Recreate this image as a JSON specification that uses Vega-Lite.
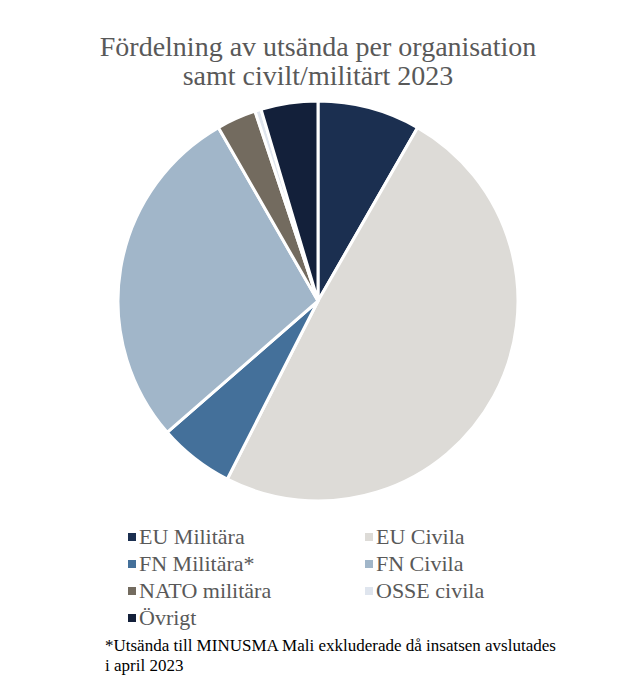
{
  "$schema": "https://vega.github.io/schema/vega-lite/v6.json",
  "autosize": {"type": "none"},
  "width": 636,
  "height": 410,
  "padding": {"left": 0, "right": 0, "top": 96, "bottom": 187},
  "background": "white",
  "title": {
    "text": ["Fördelning av utsända per organisation", "samt civilt/militärt 2023"],
    "font": "Liberation Serif, Times New Roman, serif",
    "fontSize": 28,
    "fontWeight": "normal",
    "color": "#595959",
    "lineHeight": 29,
    "anchor": "middle",
    "offset": 4
  },
  "data": {
    "values": [
      {"kategori": "EU Militära", "andel": 8.3, "ordning": 1},
      {"kategori": "EU Civila", "andel": 49.2, "ordning": 2},
      {"kategori": "FN Militära*", "andel": 6.1, "ordning": 3},
      {"kategori": "FN Civila", "andel": 28.1, "ordning": 4},
      {"kategori": "NATO militära", "andel": 3.2, "ordning": 5},
      {"kategori": "OSSE civila", "andel": 0.5, "ordning": 6},
      {"kategori": "Övrigt", "andel": 4.6, "ordning": 7}
    ]
  },
  "mark": {"type": "arc", "outerRadius": 200, "stroke": "white", "strokeWidth": 3},
  "encoding": {
    "theta": {"field": "andel", "type": "quantitative", "stack": true},
    "order": {"field": "ordning", "type": "quantitative"},
    "color": {
      "field": "kategori",
      "type": "nominal",
      "scale": {
        "domain": ["EU Militära", "EU Civila", "FN Militära*", "FN Civila", "NATO militära", "OSSE civila", "Övrigt"],
        "range": ["#1b2f50", "#dddbd7", "#44709a", "#a1b6c9", "#736b5f", "#dfe5ee", "#13203a"]
      },
      "legend": {
        "orient": "none",
        "legendX": 105,
        "legendY": 430,
        "columns": 2,
        "direction": "horizontal",
        "symbolType": "square",
        "symbolSize": 64,
        "symbolStrokeWidth": 0,
        "symbolOffset": 16,
        "labelFont": "Liberation Serif, Times New Roman, serif",
        "labelFontSize": 22,
        "labelColor": "#595959",
        "labelOffset": -4,
        "labelLimit": 300,
        "rowPadding": 5,
        "columnPadding": 70,
        "title": ["*Utsända till MINUSMA Mali exkluderade då insatsen avslutades", "i april 2023"],
        "titleOrient": "bottom",
        "titleFont": "Liberation Serif, Times New Roman, serif",
        "titleFontSize": 17,
        "titleFontWeight": "normal",
        "titleColor": "#000000",
        "titleLineHeight": 20,
        "titleLimit": 600,
        "titlePadding": 9,
        "titleAnchor": "start"
      }
    }
  },
  "config": {"view": {"stroke": null}}
}
